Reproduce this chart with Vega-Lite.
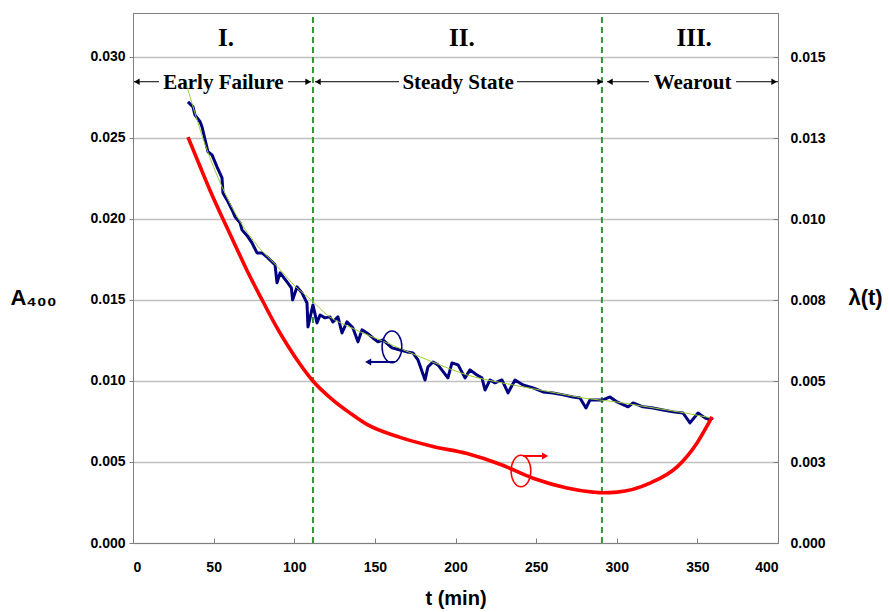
{
  "$schema": "https://vega.github.io/schema/vega-lite/v6.json",
  "width": 645,
  "height": 530,
  "autosize": "none",
  "padding": {"left": 133, "top": 13, "right": 111, "bottom": 69},
  "background": "white",
  "config": {
    "view": {"stroke": "#808080", "strokeWidth": 1},
    "font": "Liberation Sans",
    "axis": {"labelFont": "Liberation Sans", "labelFontWeight": "bold", "labelFontSize": 14, "labelColor": "black", "titleColor": "black", "titleFont": "Liberation Sans", "titleFontWeight": "bold"}
  },
  "datasets": {
    "blue": [
      {"t":34.1,"A":0.02722},{"t":37.2,"A":0.02691},{"t":38.4,"A":0.02642},{"t":41.6,"A":0.02599},{"t":42.8,"A":0.02568},{"t":44.7,"A":0.02488},{"t":46.5,"A":0.02414},{"t":49.0,"A":0.02395},{"t":52.1,"A":0.02321},{"t":55.2,"A":0.02253},{"t":55.8,"A":0.0216},{"t":58.3,"A":0.02117},{"t":61.4,"A":0.02056},{"t":63.3,"A":0.02012},{"t":66.4,"A":0.01975},{"t":67.6,"A":0.01932},{"t":71.3,"A":0.01889},{"t":73.8,"A":0.01852},{"t":76.9,"A":0.0179},{"t":80.0,"A":0.0179},{"t":83.7,"A":0.01759},{"t":88.1,"A":0.01716},{"t":89.3,"A":0.01605},{"t":91.2,"A":0.01667},{"t":95.5,"A":0.01611},{"t":98.2,"A":0.01574},{"t":99.0,"A":0.015},{"t":101.7,"A":0.0158},{"t":104.8,"A":0.01543},{"t":107.9,"A":0.01481},{"t":108.5,"A":0.01333},{"t":111.6,"A":0.01469},{"t":114.1,"A":0.01358},{"t":116.0,"A":0.01407},{"t":119.1,"A":0.01389},{"t":122.2,"A":0.01395},{"t":124.0,"A":0.01364},{"t":127.1,"A":0.01395},{"t":129.6,"A":0.01296},{"t":132.7,"A":0.01364},{"t":136.4,"A":0.01327},{"t":139.5,"A":0.01241},{"t":142.0,"A":0.01315},{"t":145.1,"A":0.01296},{"t":148.8,"A":0.01265},{"t":151.9,"A":0.01241},{"t":155.0,"A":0.01253},{"t":160.6,"A":0.01204},{"t":165.6,"A":0.01191},{"t":169.9,"A":0.01179},{"t":173.6,"A":0.01173},{"t":176.7,"A":0.0113},{"t":181.1,"A":0.01006},{"t":182.9,"A":0.01086},{"t":186.0,"A":0.01117},{"t":189.1,"A":0.01099},{"t":195.3,"A":0.01019},{"t":197.8,"A":0.01111},{"t":201.6,"A":0.01099},{"t":205.9,"A":0.01019},{"t":209.0,"A":0.01068},{"t":213.3,"A":0.01037},{"t":216.4,"A":0.01019},{"t":218.3,"A":0.00944},{"t":221.4,"A":0.01006},{"t":224.5,"A":0.00988},{"t":228.8,"A":0.01006},{"t":232.6,"A":0.00926},{"t":236.9,"A":0.01006},{"t":241.9,"A":0.00975},{"t":248.1,"A":0.00957},{"t":254.3,"A":0.00932},{"t":260.5,"A":0.00926},{"t":266.7,"A":0.00914},{"t":272.9,"A":0.00901},{"t":277.2,"A":0.00895},{"t":280.9,"A":0.00833},{"t":283.4,"A":0.00883},{"t":287.8,"A":0.00883},{"t":291.5,"A":0.00883},{"t":295.8,"A":0.00901},{"t":300.2,"A":0.0087},{"t":307.0,"A":0.0084},{"t":310.1,"A":0.00864},{"t":316.3,"A":0.0084},{"t":322.5,"A":0.00833},{"t":328.7,"A":0.00821},{"t":334.9,"A":0.00809},{"t":341.1,"A":0.00802},{"t":345.4,"A":0.00741},{"t":350.4,"A":0.00802},{"t":354.7,"A":0.00772},{"t":357.8,"A":0.00759},{"t":359.7,"A":0.00772}
    ],
    "fit": [
      {"t":32.5,"A":0.0285},{"t":34.1,"A":0.02796},{"t":45,"A":0.0245},{"t":55.2,"A":0.02198},{"t":66,"A":0.0199},{"t":77.5,"A":0.0183},{"t":90,"A":0.017},{"t":100,"A":0.0159},{"t":111.6,"A":0.0149},{"t":120,"A":0.0141},{"t":135,"A":0.0133},{"t":157.5,"A":0.01235},{"t":185,"A":0.0112},{"t":207.1,"A":0.01037},{"t":235.7,"A":0.00975},{"t":260,"A":0.0093},{"t":279,"A":0.00895},{"t":300,"A":0.0087},{"t":318.8,"A":0.0084},{"t":343.6,"A":0.008},{"t":359.7,"A":0.0077}
    ],
    "red": [
      {"t":34.1,"lambda":0.01253},{"t":41.6,"lambda":0.01162},{"t":47.8,"lambda":0.01088},{"t":55.8,"lambda":0.01},{"t":63.3,"lambda":0.0092},{"t":71.4,"lambda":0.00834},{"t":80.1,"lambda":0.0075},{"t":88.1,"lambda":0.00675},{"t":96.1,"lambda":0.00608},{"t":103.6,"lambda":0.00552},{"t":111.6,"lambda":0.005},{"t":124.0,"lambda":0.00441},{"t":134.6,"lambda":0.00401},{"t":145.1,"lambda":0.00366},{"t":165.6,"lambda":0.00326},{"t":186.0,"lambda":0.00298},{"t":207.1,"lambda":0.00276},{"t":227.6,"lambda":0.00243},{"t":248.1,"lambda":0.00200},{"t":269.1,"lambda":0.00170},{"t":285.3,"lambda":0.00157},{"t":291.0,"lambda":0.00155},{"t":300.2,"lambda":0.00157},{"t":320.6,"lambda":0.00185},{"t":337.4,"lambda":0.00235},{"t":349.8,"lambda":0.00309},{"t":359.1,"lambda":0.00389}
    ],
    "phaseLines": [{"t":111.6,"A":0,"A2":0.0327},{"t":290.8,"A":0,"A2":0.0327}],
    "roman": [{"t":57.7,"A":0.03117,"label":"I."},{"t":204,"A":0.03117,"label":"II."},{"t":348,"A":0.03117,"label":"III."}],
    "phaseNames": [{"t":56.1,"A":0.0284,"label":"Early Failure"},{"t":201.6,"A":0.0284,"label":"Steady State"},{"t":347,"A":0.0284,"label":"Wearout"}],
    "phaseSegs": [{"t":0.6,"t2":16.1,"A":0.02846},{"t":96.1,"t2":110.4,"A":0.02846},{"t":112.9,"t2":165.0,"A":0.02846},{"t":238.1,"t2":291.5,"A":0.02846},{"t":294,"t2":320,"A":0.02846},{"t":374,"t2":400,"A":0.02846}],
    "phaseHeads": [{"t":2.4,"A":0.02846,"dir":"L"},{"t":108.6,"A":0.02846,"dir":"R"},{"t":114.7,"A":0.02846,"dir":"L"},{"t":289.7,"A":0.02846,"dir":"R"},{"t":295.8,"A":0.02846,"dir":"L"},{"t":397.6,"A":0.02846,"dir":"R"}],
    "noteEllipse": [{"t":160.6,"A":0.0121,"series":"A400"},{"t":240.6,"A":0.00444,"series":"lambda"}],
    "noteArrow": [{"t":145.5,"t2":162.5,"A":0.01117,"series":"A400"},{"t":241.9,"t2":255.5,"A":0.00537,"series":"lambda"}],
    "noteHead": [{"t":145.8,"A":0.01117,"series":"A400","dir":"L"},{"t":255.6,"A":0.00537,"series":"lambda","dir":"R"}]
  },
  "encoding": {
    "x": {
      "field": "t", "type": "quantitative",
      "scale": {"domain": [0, 400], "nice": false, "zero": false},
      "axis": {"values": [0,50,100,150,200,250,300,350,400], "title": "t (min)", "grid": false, "tickSize": -5, "tickColor": "#808080", "domainColor": "#808080", "labelPadding": 22, "titleFontSize": 20, "titlePadding": 14}
    }
  },
  "layer": [
    {
      "encoding": {
        "y": {
          "field": "A", "type": "quantitative",
          "scale": {"domain": [0, 0.0327], "nice": false, "zero": false},
          "axis": {"orient": "left", "values": [0,0.005,0.01,0.015,0.02,0.025,0.03], "format": ".3f", "grid": true, "gridColor": "#c0c0c0", "gridWidth": 1.5, "tickSize": 4, "tickColor": "#808080", "domainColor": "#808080", "labelPadding": 4, "title": "A₄₀₀", "titleAngle": 0, "titleX": -100, "titleY": 284, "titleAlign": "center", "titleBaseline": "middle", "titleFontSize": 22}
        }
      },
      "layer": [
        {"data": {"name": "phaseLines"}, "mark": {"type": "rule", "color": "#2e9a2e", "strokeWidth": 2, "strokeDash": [6, 4]}, "encoding": {"y2": {"field": "A2"}}},
        {"data": {"name": "blue"}, "mark": {"type": "line", "color": "#000080", "strokeWidth": 3, "strokeJoin": "round"}, "encoding": {}},
        {"data": {"name": "fit"}, "mark": {"type": "line", "color": "#9acd32", "strokeWidth": 1, "interpolate": "monotone"}, "encoding": {}},
        {"data": {"name": "roman"}, "mark": {"type": "text", "font": "Liberation Serif", "fontWeight": "bold", "fontSize": 25, "align": "center", "baseline": "middle", "color": "black"}, "encoding": {"text": {"field": "label"}}},
        {"data": {"name": "phaseNames"}, "mark": {"type": "text", "font": "Liberation Serif", "fontWeight": "bold", "fontSize": 21, "align": "center", "baseline": "middle", "color": "black"}, "encoding": {"text": {"field": "label"}}},
        {"data": {"name": "phaseSegs"}, "mark": {"type": "rule", "strokeWidth": 1, "color": "black"}, "encoding": {"x2": {"field": "t2"}}},
        {"data": {"name": "phaseHeads"}, "mark": {"type": "point", "filled": true, "size": 40, "opacity": 1, "color": "black"}, "encoding": {"shape": {"field": "dir", "type": "nominal", "scale": {"domain": ["L", "R"], "range": ["triangle-left", "triangle-right"]}, "legend": null}}},
        {"data": {"name": "noteEllipse"}, "mark": {"type": "point", "shape": "M0,-1C0.345,-1 0.625,-0.552 0.625,0C0.625,0.552 0.345,1 0,1C-0.345,1 -0.625,0.552 -0.625,0C-0.625,-0.552 -0.345,-1 0,-1Z", "size": 1000, "filled": false, "strokeWidth": 1.5, "opacity": 1}, "encoding": {"color": {"field": "series", "type": "nominal", "scale": {"domain": ["A400", "lambda"], "range": ["#000080", "#ff0000"]}, "legend": null}}},
        {"data": {"name": "noteArrow"}, "mark": {"type": "rule", "strokeWidth": 2}, "encoding": {"x2": {"field": "t2"}, "color": {"field": "series", "type": "nominal", "legend": null}}},
        {"data": {"name": "noteHead"}, "mark": {"type": "point", "filled": true, "size": 50, "opacity": 1}, "encoding": {"color": {"field": "series", "type": "nominal", "legend": null}, "shape": {"field": "dir", "type": "nominal", "legend": null}}}
      ]
    },
    {
      "data": {"name": "red"},
      "mark": {"type": "line", "color": "#ff0000", "strokeWidth": 3.6, "interpolate": "monotone"},
      "encoding": {
        "y": {
          "field": "lambda", "type": "quantitative",
          "scale": {"domain": [0, 0.01636], "nice": false, "zero": false},
          "axis": {"orient": "right", "values": [0,0.0025,0.005,0.0075,0.01,0.0125,0.015], "labelExpr": "format(datum.value + 1e-9, '.3f')", "grid": false, "tickSize": -5, "tickColor": "#808080", "domainColor": "#808080", "labelPadding": 17, "title": "λ(t)", "titleAngle": 0, "titleX": 87, "titleY": 284, "titleAlign": "center", "titleBaseline": "middle", "titleFontSize": 22}
        }
      }
    }
  ],
  "resolve": {"scale": {"y": "independent"}, "axis": {"y": "independent"}}
}
